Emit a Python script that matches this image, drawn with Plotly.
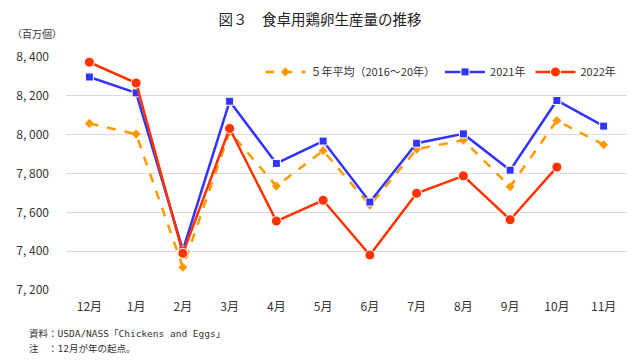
import plotly.graph_objects as go

months = ["12月", "1月", "2月", "3月", "4月", "5月", "6月", "7月", "8月", "9月", "10月", "11月"]
avg5 = [8058, 8003, 7317, 8015, 7735, 7917, 7637, 7925, 7972, 7732, 8073, 7948]
y2021 = [8297, 8215, 7405, 8172, 7852, 7967, 7653, 7956, 8004, 7817, 8176, 8044]
y2022 = [8373, 8266, 7389, 8032, 7555, 7662, 7380, 7698, 7788, 7562, 7833]
ytick_vals = [7200, 7400, 7600, 7800, 8000, 8200, 8400]
ytick_text = ["7, 200", "7, 400", "7, 600", "7, 800", "8, 000", "8, 200", "8, 400"]

FONT = "Noto Sans CJK JP"
MONO = "DejaVu Sans Mono, Noto Sans CJK JP"

fig = go.Figure()
fig.add_trace(go.Scatter(
    x=months, y=avg5, name="５年平均（2016～20年）", mode="lines+markers",
    line=dict(color="#FF9900", width=2.5, dash="dash"),
    marker=dict(symbol="diamond", size=7, color="#FF9900"),
))
fig.add_trace(go.Scatter(
    x=months, y=y2021, name="2021年", mode="lines+markers",
    line=dict(color="#3333FF", width=2.5),
    marker=dict(symbol="square", size=8, color="#3333FF", line=dict(color="white", width=1)),
))
fig.add_trace(go.Scatter(
    x=months[:len(y2022)], y=y2022, name="2022年", mode="lines+markers",
    line=dict(color="#FF3300", width=2.5),
    marker=dict(symbol="circle", size=10, color="#FF3300", line=dict(color="white", width=1)),
))

fig.update_layout(
    width=624, height=347,
    margin=dict(l=58, r=5, t=49, b=65),
    paper_bgcolor="white", plot_bgcolor="white",
    font=dict(family=FONT, size=11, color="#333333"),
    title=dict(text="図３　食卓用鶏卵生産量の推移", x=0.5, xanchor="center", y=0.965, yanchor="middle",
               font=dict(family=FONT, size=14.5, color="#222222")),
    showlegend=True,
    legend=dict(orientation="h", x=0.99, xanchor="right", y=0.936, yanchor="middle",
                bgcolor="rgba(0,0,0,0)", font=dict(size=11, color="#333333"),
                itemwidth=40, tracegroupgap=0),
    xaxis=dict(range=[-0.5, 11.5], showgrid=False, showline=False, zeroline=False, ticks="",
               ticklabelstandoff=8, tickfont=dict(size=12, color="#333333")),
    yaxis=dict(range=[7200, 8400], tickvals=ytick_vals, ticktext=ytick_text,
               showgrid=True, gridcolor="#D9D9D9", gridwidth=1, zeroline=False, showline=False,
               ticks="", ticklabelstandoff=16, tickfont=dict(size=12, color="#333333")),
    annotations=[
        dict(text="（百万個）", xref="paper", yref="paper", x=-0.1, y=1.103, xanchor="left",
             yanchor="middle", showarrow=False, font=dict(size=10, color="#333333")),
        dict(text="資料：USDA/NASS「Chickens and Eggs」", xref="paper", yref="paper", x=-0.0695,
             y=-0.187, xanchor="left", yanchor="middle", showarrow=False,
             font=dict(family=MONO, size=9.5, color="#333333")),
        dict(text="注　：12月が年の起点。", xref="paper", yref="paper", x=-0.0695,
             y=-0.25, xanchor="left", yanchor="middle", showarrow=False,
             font=dict(family=MONO, size=9.5, color="#333333")),
    ],
)

fig.write_html("out.html")
